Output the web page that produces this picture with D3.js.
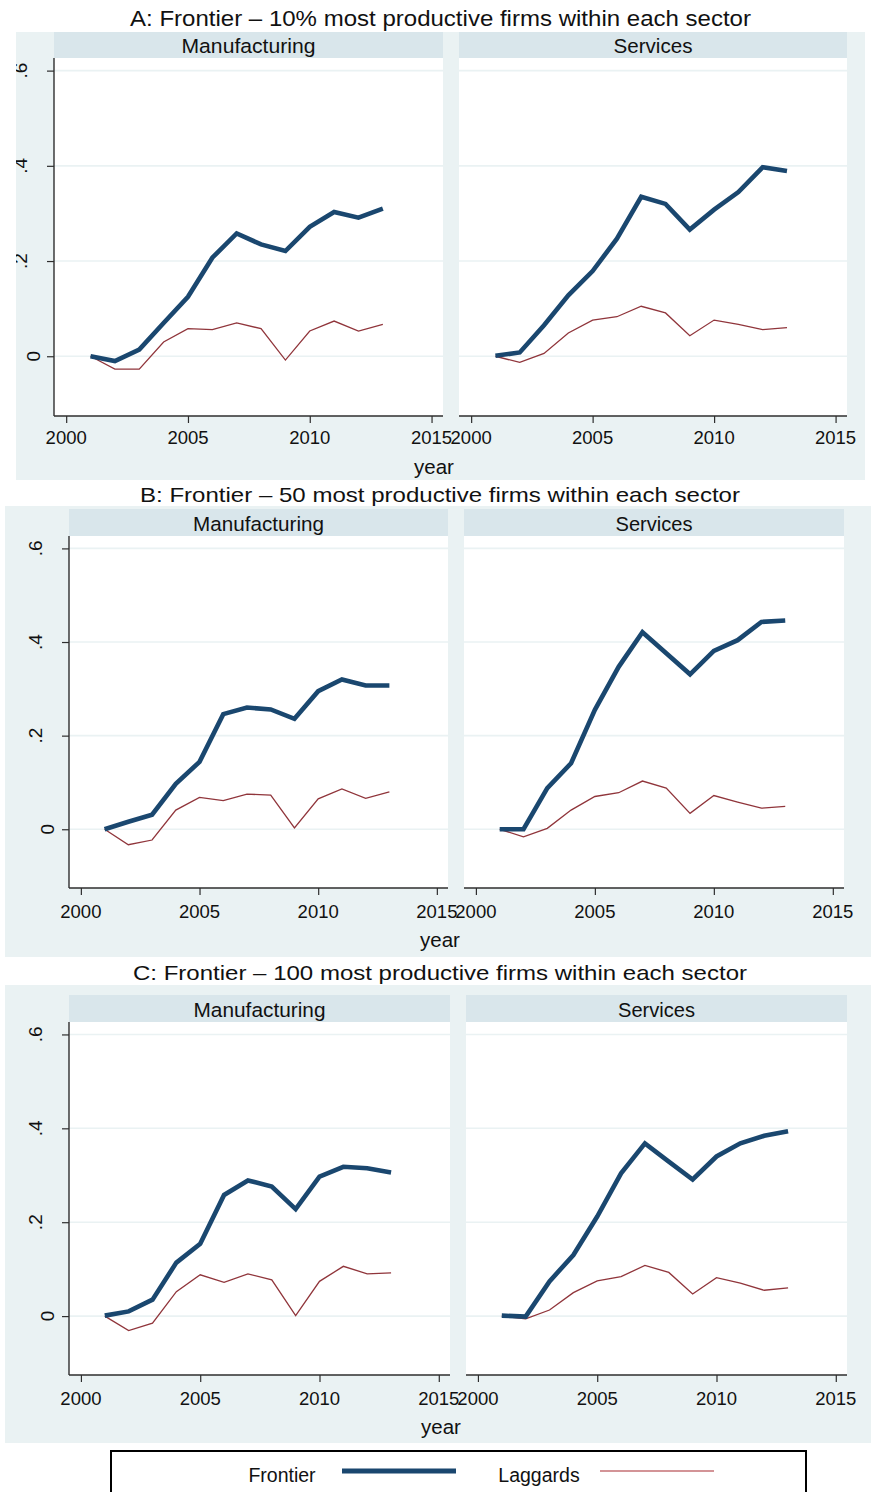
<!DOCTYPE html>
<html><head><meta charset="utf-8">
<script src="https://cdn.jsdelivr.net/npm/d3@7"></script>
<style>html,body{margin:0;padding:0;background:#fff}svg{display:block}</style>
</head><body>
<script>
// ---------------- DATA ----------------
const years = [2001, 2002, 2003, 2004, 2005, 2006, 2007, 2008, 2009, 2010, 2011, 2012, 2013];
const sectors = ["Manufacturing", "Services"];
const panelTitles = [
  "A: Frontier \u2013 10% most productive firms within each sector",
  "B: Frontier \u2013 50 most productive firms within each sector",
  "C: Frontier \u2013 100 most productive firms within each sector"
];
const xTickValues = [2000, 2005, 2010, 2015];
const yTickValues = [0, 0.2, 0.4, 0.6];
const yTickLabels = ["0", ".2", ".4", ".6"];
const xAxisTitle = "year";
const seriesNames = ["Frontier", "Laggards"];

// Panel A
const frontierA_manuf = [0.000, -0.010, 0.014, 0.070, 0.125, 0.207, 0.258, 0.235, 0.221, 0.272, 0.303, 0.291, 0.310];
const laggardsA_manuf = [0.000, -0.027, -0.027, 0.030, 0.058, 0.056, 0.070, 0.058, -0.008, 0.053, 0.074, 0.053, 0.067];
const frontierA_serv  = [0.001, 0.008, 0.065, 0.128, 0.179, 0.247, 0.335, 0.320, 0.266, 0.308, 0.345, 0.397, 0.389];
const laggardsA_serv  = [0.000, -0.013, 0.006, 0.049, 0.076, 0.083, 0.105, 0.091, 0.043, 0.076, 0.067, 0.056, 0.060];
// Panel B
const frontierB_manuf = [0.000, 0.016, 0.031, 0.097, 0.144, 0.246, 0.260, 0.256, 0.236, 0.295, 0.320, 0.307, 0.307];
const laggardsB_manuf = [0.000, -0.033, -0.023, 0.041, 0.068, 0.061, 0.075, 0.073, 0.003, 0.065, 0.086, 0.066, 0.080];
const frontierB_serv  = [0.000, 0.000, 0.088, 0.141, 0.255, 0.347, 0.421, 0.376, 0.331, 0.381, 0.404, 0.443, 0.446];
const laggardsB_serv  = [0.000, -0.016, 0.002, 0.041, 0.070, 0.078, 0.103, 0.088, 0.034, 0.072, 0.058, 0.045, 0.049];
// Panel C
const frontierC_manuf = [0.001, 0.010, 0.035, 0.114, 0.154, 0.258, 0.289, 0.276, 0.228, 0.297, 0.318, 0.315, 0.306];
const laggardsC_manuf = [0.000, -0.031, -0.015, 0.052, 0.088, 0.072, 0.090, 0.077, 0.001, 0.074, 0.106, 0.090, 0.092];
const frontierC_serv  = [0.001, -0.001, 0.074, 0.130, 0.212, 0.304, 0.368, 0.329, 0.291, 0.340, 0.368, 0.384, 0.394];
const laggardsC_serv  = [0.000, -0.006, 0.013, 0.050, 0.075, 0.084, 0.108, 0.093, 0.047, 0.082, 0.070, 0.055, 0.060];

const panelData = [
  [[frontierA_manuf, laggardsA_manuf], [frontierA_serv, laggardsA_serv]],
  [[frontierB_manuf, laggardsB_manuf], [frontierB_serv, laggardsB_serv]],
  [[frontierC_manuf, laggardsC_manuf], [frontierC_serv, laggardsC_serv]]
];

// ---------------- LAYOUT / STYLE ----------------
const W = 871, H = 1492;
const FONT = "'Liberation Sans', Arial, Helvetica, sans-serif";
const C = {
  bg: "#eaf2f3", strip: "#d9e6eb", grid: "#eaf2f3", axis: "#2e2e2e",
  frontier: "#1a476f", laggards: "#90353b", text: "#111"
};
const xDomain = [1999.5, 2015.47];
const yDomain = [-0.1255, 0.6265];

const layouts = [
  { bg: [16, 32, 849, 448], titleX: 440.5, titleY: 18, titleW: 621, titleFs: 22,
    strip: [32, 58], bottom: 416, cols: [[54, 443], [459, 847]],
    stripW: [134, 79], tickY: 444, yearX: 434, yearY: 474, ylabX: 27, ylab0X: 40 },
  { bg: [5, 506, 866, 451], titleX: 440, titleY: 494, titleW: 600, titleFs: 21,
    strip: [509, 536], bottom: 888, cols: [[69, 448], [464, 844]],
    stripW: [131, 77], tickY: 918, yearX: 440, yearY: 947, ylabX: 42, ylab0X: 54 },
  { bg: [5, 985, 866, 458], titleX: 440, titleY: 972, titleW: 614, titleFs: 21,
    strip: [995, 1022], bottom: 1375, cols: [[69, 450], [466, 847]],
    stripW: [132, 77], tickY: 1405, yearX: 441, yearY: 1434, ylabX: 42, ylab0X: 54 }
];

const svg = d3.select("body").append("svg")
  .attr("width", W).attr("height", H)
  .style("font-family", FONT);
svg.append("rect").attr("width", W).attr("height", H).attr("fill", "#fff");

const defs = svg.append("defs");

layouts.forEach((L, pi) => {
  const g = svg.append("g");
  const [bx, by, bw, bh] = L.bg;
  defs.append("clipPath").attr("id", "clip" + pi)
    .append("rect").attr("x", bx).attr("y", by).attr("width", bw).attr("height", bh);

  g.append("rect").attr("x", bx).attr("y", by).attr("width", bw).attr("height", bh).attr("fill", C.bg);

  // Title
  g.append("text").attr("x", L.titleX).attr("y", L.titleY)
    .attr("text-anchor", "middle").attr("dominant-baseline", "central")
    .attr("font-size", L.titleFs).attr("fill", C.text)
    .attr("textLength", L.titleW).attr("lengthAdjust", "spacingAndGlyphs")
    .text(panelTitles[pi]);

  const yScale = d3.scaleLinear().domain(yDomain).range([L.bottom, L.strip[1]]);

  L.cols.forEach((col, ci) => {
    const [left, right] = col;
    const xScale = d3.scaleLinear().domain(xDomain).range([left, right]);
    const cg = g.append("g");

    // strip
    cg.append("rect").attr("x", left).attr("y", L.strip[0])
      .attr("width", right - left).attr("height", L.strip[1] - L.strip[0]).attr("fill", C.strip);
    cg.append("text").attr("x", (left + right) / 2).attr("y", (L.strip[0] + L.strip[1]) / 2 + 0.5)
      .attr("text-anchor", "middle").attr("dominant-baseline", "central")
      .attr("font-size", 20.5).attr("fill", C.text)
      .attr("textLength", L.stripW[ci]).attr("lengthAdjust", "spacingAndGlyphs")
      .text(sectors[ci]);

    // plot area
    cg.append("rect").attr("x", left).attr("y", L.strip[1])
      .attr("width", right - left).attr("height", L.bottom - L.strip[1]).attr("fill", "#fff");

    // gridlines
    cg.selectAll("line.grid").data(yTickValues).enter().append("line")
      .attr("x1", left).attr("x2", right)
      .attr("y1", d => yScale(d)).attr("y2", d => yScale(d))
      .attr("stroke", C.grid).attr("stroke-width", 1.6);

    // x axis
    const xAxis = d3.axisBottom(xScale).tickValues(xTickValues).tickSize(7).tickFormat(d3.format("d"));
    const xa = cg.append("g").attr("transform", `translate(0,${L.bottom})`).call(xAxis);
    xa.select(".domain").attr("stroke", C.axis).attr("stroke-width", 1.4)
      .attr("d", `M${left},0H${right}`);
    xa.selectAll(".tick line").attr("stroke", C.axis).attr("stroke-width", 1.2);
    xa.selectAll(".tick text").remove();
    cg.selectAll("text.xlab").data(xTickValues).enter().append("text")
      .attr("x", d => xScale(d)).attr("y", L.tickY)
      .attr("text-anchor", "middle").attr("font-size", 18.5).attr("fill", C.text)
      .text(d => d3.format("d")(d));

    // y axis only on first column
    if (ci === 0) {
      const yAxis = d3.axisLeft(yScale).tickValues(yTickValues).tickSize(7).tickFormat("");
      const ya = cg.append("g").attr("transform", `translate(${left},0)`).call(yAxis);
      ya.select(".domain").attr("stroke", C.axis).attr("stroke-width", 1.4)
        .attr("d", `M0,${L.strip[1]}V${L.bottom}`);
      ya.selectAll(".tick line").attr("stroke", C.axis).attr("stroke-width", 1.2);
      const labG = cg.append("g").attr("clip-path", `url(#clip${pi})`);
      labG.selectAll("text.ylab").data(yTickValues).enter().append("text")
        .attr("transform", (d, i) => `translate(${i === 0 ? L.ylab0X : L.ylabX},${yScale(d)}) rotate(-90)`)
        .attr("text-anchor", "middle").attr("font-size", 19).attr("fill", C.text)
        .text((d, i) => yTickLabels[i]);
    }

    // lines
    const line = d3.line().x((d, i) => xScale(years[i])).y(d => yScale(d));
    const [fr, lg] = panelData[pi][ci];
    cg.append("path").datum(lg).attr("d", line)
      .attr("fill", "none").attr("stroke", C.laggards).attr("stroke-width", 1.3);
    cg.append("path").datum(fr).attr("d", line)
      .attr("fill", "none").attr("stroke", C.frontier).attr("stroke-width", 4.6)
      .attr("stroke-linejoin", "miter");
  });

  // x axis title
  g.append("text").attr("x", L.yearX).attr("y", L.yearY)
    .attr("text-anchor", "middle").attr("font-size", 20.5).attr("fill", C.text)
    .text(xAxisTitle);
});

// ---------------- LEGEND ----------------
const lg = svg.append("g");
lg.append("rect").attr("x", 111).attr("y", 1451).attr("width", 695).attr("height", 60)
  .attr("fill", "#fff").attr("stroke", "#000").attr("stroke-width", 2);
const legendItems = [
  { name: seriesNames[0], tx: 282, x1: 342, x2: 456, color: C.frontier, w: 5 },
  { name: seriesNames[1], tx: 539, x1: 600, x2: 714, color: "#c47175", w: 1.4 }
];
legendItems.forEach(it => {
  lg.append("text").attr("x", it.tx).attr("y", 1482).attr("text-anchor", "middle")
    .attr("font-size", 19.5).attr("fill", C.text).text(it.name);
  lg.append("line").attr("x1", it.x1).attr("x2", it.x2).attr("y1", 1471).attr("y2", 1471)
    .attr("stroke", it.color).attr("stroke-width", it.w);
});
</script>
</body></html>
